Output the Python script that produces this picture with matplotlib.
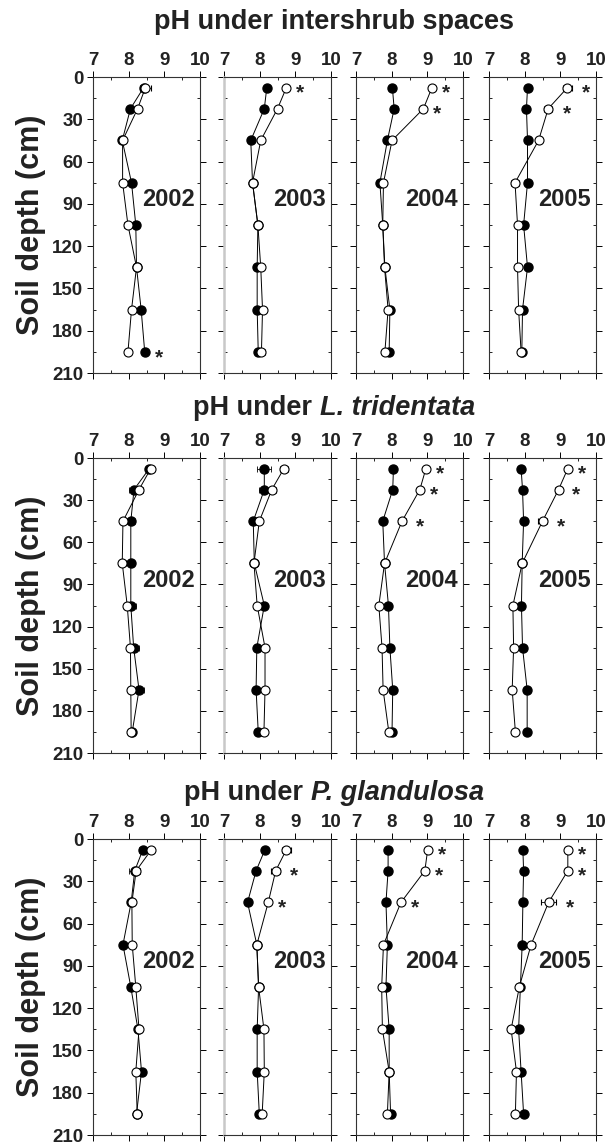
import matplotlib
matplotlib.use("Agg")
import matplotlib.pyplot as plt
from matplotlib.ticker import MultipleLocator

plt.rcParams['font.family'] = ['Liberation Sans', 'DejaVu Sans']
plt.rcParams['font.weight'] = 'bold'

years = ['2002', '2003', '2004', '2005']
depths = [7.5, 22.5, 45, 75, 105, 135, 165, 195]
x_ticks = [7, 8, 9, 10]
y_ticks = [0, 30, 60, 90, 120, 150, 180, 210]

title_prefix = 'pH under '
title_names = ['intershrub spaces', 'L. tridentata', 'P. glandulosa']
title_italic = [False, True, True]

# ---- intershrub spaces ----
inter_filled = [[8.42, 8.05, 7.82, 8.08, 8.20, 8.22, 8.35, 8.45],
                [8.20, 8.13, 7.75, 7.80, 7.95, 7.93, 7.93, 7.96],
                [8.02, 8.07, 7.88, 7.67, 7.75, 7.81, 7.95, 7.93],
                [8.08, 8.05, 8.08, 8.08, 7.97, 8.08, 7.94, 7.92]]
inter_open = [[8.47, 8.25, 7.83, 7.83, 7.98, 8.22, 8.08, 7.98],
              [8.75, 8.50, 8.03, 7.80, 7.95, 8.03, 8.08, 8.05],
              [9.13, 8.89, 8.01, 7.77, 7.75, 7.80, 7.90, 7.81],
              [9.20, 8.66, 8.39, 7.73, 7.80, 7.80, 7.83, 7.90]]
inter_filled_err = [[0, 0, 0, 0, 0, 0, 0, 0],
                    [0.08, 0, 0, 0, 0, 0, 0, 0],
                    [0, 0.10, 0, 0.08, 0, 0, 0, 0],
                    [0, 0, 0, 0, 0, 0, 0, 0]]
inter_open_err = [[0.15, 0, 0, 0, 0.10, 0, 0, 0],
                  [0, 0, 0, 0, 0, 0, 0, 0.10],
                  [0, 0, 0.10, 0, 0, 0, 0, 0],
                  [0.12, 0.12, 0, 0.10, 0, 0, 0, 0]]
inter_sig = [[7], [0], [0, 1], [0, 1]]

# ---- L. tridentata ----
lt_filled = [[8.58, 8.15, 8.06, 8.06, 8.06, 8.14, 8.29, 8.10],
             [8.13, 8.13, 7.82, 7.85, 8.13, 7.92, 7.90, 7.96],
             [8.05, 8.03, 7.75, 7.80, 7.91, 7.95, 8.03, 8.01],
             [7.90, 7.94, 7.97, 7.93, 7.91, 7.94, 8.07, 8.07]]
lt_open = [[8.62, 8.29, 7.84, 7.82, 7.96, 8.05, 8.06, 8.07],
           [8.68, 8.34, 7.99, 7.84, 7.93, 8.15, 8.15, 8.12],
           [8.96, 8.79, 8.29, 7.80, 7.64, 7.73, 7.76, 7.92],
           [9.21, 8.95, 8.50, 7.93, 7.67, 7.69, 7.65, 7.74]]
lt_filled_err = [[0.10, 0.15, 0.12, 0, 0.15, 0.15, 0.15, 0],
                 [0.20, 0.15, 0, 0, 0, 0, 0, 0],
                 [0, 0.10, 0, 0, 0, 0, 0, 0],
                 [0, 0, 0, 0, 0, 0, 0, 0]]
lt_open_err = [[0.10, 0.10, 0, 0.10, 0.10, 0, 0, 0],
               [0.12, 0.12, 0, 0.10, 0, 0, 0, 0],
               [0, 0, 0.10, 0, 0, 0, 0, 0],
               [0, 0.10, 0.12, 0, 0, 0, 0, 0]]
lt_sig = [[], [], [0, 1, 2], [0, 1, 2]]

# ---- P. glandulosa ----
pg_filled = [[8.40, 8.17, 8.07, 7.84, 8.06, 8.26, 8.36, 8.22],
             [8.15, 7.90, 7.66, 7.92, 7.97, 7.93, 7.93, 7.99],
             [7.90, 7.90, 7.84, 7.88, 7.84, 7.93, 7.93, 7.97],
             [7.95, 7.97, 7.95, 7.93, 7.88, 7.83, 7.90, 7.97]]
pg_open = [[8.64, 8.21, 8.09, 8.10, 8.20, 8.29, 8.20, 8.24],
           [8.75, 8.45, 8.24, 7.92, 7.97, 8.12, 8.13, 8.07],
           [9.01, 8.93, 8.26, 7.77, 7.72, 7.74, 7.93, 7.88],
           [9.21, 9.21, 8.67, 8.18, 7.85, 7.62, 7.77, 7.74]]
pg_filled_err = [[0.12, 0.15, 0, 0, 0, 0, 0, 0],
                 [0, 0, 0, 0, 0, 0, 0, 0],
                 [0, 0, 0, 0, 0, 0, 0, 0],
                 [0, 0, 0, 0, 0, 0, 0, 0]]
pg_open_err = [[0, 0.10, 0, 0, 0.12, 0, 0, 0],
               [0.12, 0.12, 0, 0, 0, 0, 0, 0],
               [0, 0, 0, 0, 0, 0, 0, 0],
               [0, 0, 0.20, 0.10, 0, 0.10, 0, 0]]
pg_sig = [[], [1, 2], [0, 1, 2], [0, 1, 2]]

rows = [(inter_filled, inter_open, inter_filled_err, inter_open_err, inter_sig),
        (lt_filled, lt_open, lt_filled_err, lt_open_err, lt_sig),
        (pg_filled, pg_open, pg_filled_err, pg_open_err, pg_sig)]

W, H = 606, 1146
fig = plt.figure(figsize=(W / 100, H / 100), dpi=100)

col_left = [93, 224, 356, 489]
col_w = 107
row_top = [77, 458, 839]
row_bot = [373, 753, 1135]
title_y = [22, 408, 793]
title_cx = 334

for r, (filled, opn, ferr, oerr, sig) in enumerate(rows):
    for c in range(4):
        ax = fig.add_axes([col_left[c] / W, 1 - row_bot[r] / H,
                           col_w / W, (row_bot[r] - row_top[r]) / H])
        ax.errorbar(filled[c], depths, xerr=ferr[c], fmt='-o', color='black',
                    mfc='black', mec='black', ms=6.5, lw=0.7, elinewidth=0.6,
                    capsize=2, capthick=0.6, zorder=3)
        ax.errorbar(opn[c], depths, xerr=oerr[c], fmt='-o', color='black',
                    mfc='white', mec='black', mew=0.8, ms=6.5, lw=0.7,
                    elinewidth=0.6, capsize=2, capthick=0.6, zorder=4)
        for i in sig[c]:
            xs = max(filled[c][i] + ferr[c][i], opn[c][i] + oerr[c][i]) + 0.28
            ax.text(xs, depths[i] + 4, '*', fontsize=15, ha='left',
                    va='center', color='#222222')
        ax.text(9.85, 87, years[c], fontsize=17, fontweight='bold',
                ha='right', va='center', color='#222222')
        ax.set_xlim(7, 10)
        ax.set_ylim(210, 0)
        ax.set_xticks(x_ticks)
        ax.set_yticks(y_ticks)
        ax.xaxis.set_minor_locator(MultipleLocator(0.5))
        ax.yaxis.set_minor_locator(MultipleLocator(15))
        ax.xaxis.tick_top()
        ax.tick_params(axis='x', which='major', top=True, bottom=True,
                       direction='out', length=4, width=0.7,
                       labelsize=13.5, pad=2, labelcolor='#222222')
        ax.tick_params(axis='x', which='minor', top=True, bottom=True,
                       direction='in', length=2.5, width=0.6)
        ax.tick_params(axis='y', which='major', left=True, right=True,
                       direction='out', length=4, width=0.7,
                       labelsize=13.5, pad=3, labelcolor='#222222')
        ax.tick_params(axis='y', which='minor', left=True, right=True,
                       direction='in', length=2.5, width=0.6)
        for lab in ax.get_xticklabels() + ax.get_yticklabels():
            lab.set_fontweight('bold')
        if c != 0:
            ax.tick_params(axis='y', labelleft=False)
        else:
            ax.set_ylabel('Soil depth (cm)', fontsize=22, fontweight='bold',
                          color='#222222', labelpad=4)
        for sp in ax.spines.values():
            sp.set_linewidth(0.8)
            sp.set_color('#333333')
        if c == 1:
            ax.spines['left'].set_color('#c8c8c8')
            ax.spines['left'].set_linewidth(1.8)

# titles: plain prefix + (italic) name, measured so the whole line is centred
renderer = fig.canvas.get_renderer()
for r in range(3):
    y = 1 - title_y[r] / H
    t1 = fig.text(0, y, title_prefix, fontsize=19.5, fontweight='bold',
                  ha='left', va='center', color='#222222')
    t2 = fig.text(0, y, title_names[r], fontsize=19.5, fontweight='bold',
                  style='italic' if title_italic[r] else 'normal',
                  ha='left', va='center', color='#222222')
    w1 = t1.get_window_extent(renderer).width
    w2 = t2.get_window_extent(renderer).width
    total = w1 + w2
    x0 = title_cx - total / 2
    t1.set_x(x0 / W)
    t2.set_x((x0 + w1) / W)

fig.savefig('out.png', dpi=100)
